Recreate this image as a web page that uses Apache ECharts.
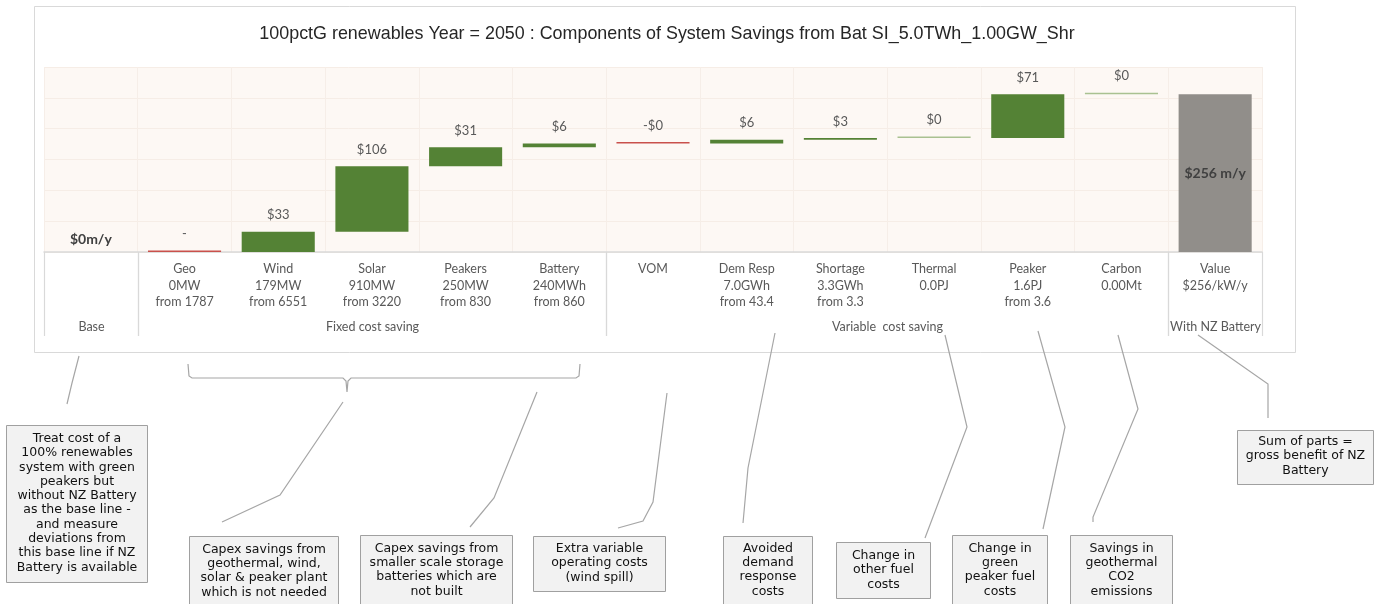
<!DOCTYPE html>
<html><head><meta charset="utf-8">
<script src="https://cdn.jsdelivr.net/npm/echarts/dist/echarts.min.js"></script>
<style>html,body{margin:0;padding:0;background:#fff}#c{width:1381px;height:604px}</style>
</head><body><div id="c"></div>
<script>
// ---------------- DATA ----------------
const titleText = '100pctG renewables Year = 2050 : Components of System Savings from Bat SI_5.0TWh_1.00GW_Shr';
const categories = ['', 'Geo\n0MW\nfrom 1787', 'Wind\n179MW\nfrom 6551', 'Solar\n910MW\nfrom 3220',
  'Peakers\n250MW\nfrom 830', 'Battery\n240MWh\nfrom 860', 'VOM', 'Dem Resp\n7.0GWh\nfrom 43.4',
  'Shortage\n3.3GWh\nfrom 3.3', 'Thermal\n0.0PJ', 'Peaker\n1.6PJ\nfrom 3.6', 'Carbon\n0.00Mt', 'Value\n$256/kW/y'];
const barKinds = ['total', 'step', 'step', 'step', 'step', 'step', 'step', 'step', 'step', 'step', 'step', 'step', 'total'];
const changes = [0, 0, 33, 106, 31, 6, -0, 6, 3, 0, 71, 0, 256];
const valueLabels = ['$0m/y', '-', '$33', '$106', '$31', '$6', '-$0', '$6', '$3', '$0', '$71', '$0', '$256 m/y'];
const groupNames = ['Base', 'Fixed cost saving', 'Variable  cost saving', 'With NZ Battery'];
const groupStart = [0, 1, 6, 12];
const groupEnd = [0, 5, 11, 12];
const yMin = 0, yMax = 300, yStep = 50;

// annotation texts
const noteTexts = [
  'Treat cost of a\n100% renewables\nsystem with green\npeakers but\nwithout NZ Battery\nas the base line -\nand measure\ndeviations from\nthis base line if NZ\nBattery is available',
  'Capex savings from\ngeothermal, wind,\nsolar & peaker plant\nwhich is not needed',
  'Capex savings from\nsmaller scale storage\nbatteries which are\nnot built',
  'Extra variable\noperating costs\n(wind spill)',
  'Avoided\ndemand\nresponse\ncosts',
  'Change in\nother fuel\ncosts',
  'Change in\ngreen\npeaker fuel\ncosts',
  'Savings in\ngeothermal\nCO2\nemissions',
  'Sum of parts =\ngross benefit of NZ\nBattery'
];

// ---------------- STYLE / LAYOUT ----------------
const GREEN = '#548235', RED = '#C9514C', LIGHTG = '#A9C191', GREY = '#918E8A';
const barColors = ['rgba(0,0,0,0)', RED, GREEN, GREEN, GREEN, GREEN, RED, GREEN, GREEN, LIGHTG, GREEN, LIGHTG, GREY];
const noteBoxes = [ // x, y, w, h
  [6, 425, 141, 157], [189, 536, 149, 80], [360, 535, 152, 80], [533, 536, 132, 55],
  [723, 536, 89, 80], [836, 542, 94, 56], [952, 535, 95, 80], [1070, 535, 102, 80], [1237, 430, 136, 54]
];
const noteCenters = [503, 571, 570, 563, 570, 570, 570, 570, 456];
const connectors = [
  [[79, 356], [72, 383], [67, 404]],
  [[188, 364], [189, 376], [192, 378], [343, 378], [346, 381], [347, 392], [348, 381], [351, 378], [576, 378], [579, 376], [580, 364]],
  [[343, 402], [280, 495], [222, 522]],
  [[537, 392], [494, 498], [470, 527]],
  [[667, 393], [653, 502], [643, 521], [618, 528]],
  [[775, 333], [748, 468], [743, 523]],
  [[945, 335], [967, 427], [925, 538]],
  [[1038, 331], [1065, 427], [1043, 529]],
  [[1118, 335], [1138, 409], [1093, 517], [1093, 522]],
  [[1198, 335], [1268, 384], [1268, 418]]
];

// waterfall offsets derived from the changes
const offsets = [];
let running = 0;
for (let i = 0; i < changes.length; i++) {
  if (barKinds[i] === 'total') { offsets.push(0); }
  else { offsets.push(running); running += changes[i]; }
}
const labelFont = 'Lato, "Open Sans", sans-serif';
const visData = changes.map((v, i) => {
  const item = { value: v, itemStyle: { color: barColors[i] } };
  if (i === 0) item.label = { fontWeight: 'bold', fontSize: 14, color: '#404040', distance: 4 };
  if (i === changes.length - 1) item.label = { position: 'inside', fontWeight: 'bold', fontSize: 14, color: '#404040' };
  return item;
});
const groupData = groupNames.map((n, i) => ({ value: [groupStart[i], groupEnd[i]], name: n }));

const graphics = [];
graphics.push({ type: 'rect', shape: { x: 34.5, y: 6.5, width: 1261, height: 346 }, style: { fill: 'none', stroke: '#D9D9D9', lineWidth: 1 }, z: -10 });
graphics.push({ type: 'text', x: 667, y: 34, style: { text: titleText, align: 'center', verticalAlign: 'middle', fontFamily: '"Liberation Sans", Arial, sans-serif', fontSize: 17.9, fill: '#262626' } });
connectors.forEach(pts => graphics.push({ type: 'polyline', shape: { points: pts }, style: { stroke: '#A6A6A6', lineWidth: 1.2, fill: null }, z: 50 }));
noteTexts.forEach((t, i) => {
  const b = noteBoxes[i];
  graphics.push({ type: 'rect', shape: { x: b[0] + 0.5, y: b[1] + 0.5, width: b[2], height: b[3] }, style: { fill: '#F2F2F2', stroke: '#A0A0A0', lineWidth: 1 }, z: 60 });
  graphics.push({ type: 'text', x: b[0] + b[2] / 2 + 0.5, y: noteCenters[i], style: { text: t, align: 'center', verticalAlign: 'middle', fontFamily: '"DejaVu Sans", sans-serif', fontSize: 12.5, lineHeight: 14.3, fill: '#111' }, z: 61 });
});

const chart = echarts.init(document.getElementById('c'), null, { renderer: 'canvas' });
chart.setOption({
  animation: false,
  backgroundColor: '#fff',
  textStyle: { fontFamily: labelFont },
  grid: { left: 44, right: 119, top: 67, bottom: 352, show: true, backgroundColor: '#FDF8F4', borderWidth: 0, containLabel: false, outerBoundsMode: 'none' },
  xAxis: {
    type: 'category', data: categories,
    axisLine: { show: true, lineStyle: { color: '#D9D9D9', width: 1.5 } },
    axisTick: { show: false },
    splitLine: { show: true, interval: 0, lineStyle: { color: '#F6EEE8', width: 1 } },
    axisLabel: { interval: 0, color: '#595959', fontSize: 12.5, lineHeight: 16.5, margin: 9, fontFamily: labelFont }
  },
  yAxis: {
    type: 'value', min: yMin, max: yMax, interval: yStep,
    axisLabel: { show: false }, axisLine: { show: false }, axisTick: { show: false },
    splitLine: { show: true, lineStyle: { color: '#F6EDE6', width: 1 } }
  },
  series: [
    { type: 'bar', stack: 'w', data: offsets, itemStyle: { color: 'rgba(0,0,0,0)' }, barWidth: '78%', silent: true },
    {
      type: 'bar', stack: 'w', data: visData, barWidth: '78%', barMinHeight: 1.5,
      label: { show: true, position: 'top', distance: 10, color: '#595959', fontSize: 13, fontFamily: labelFont,
        formatter: p => valueLabels[p.dataIndex] }
    },
    {
      type: 'custom', clip: false, silent: true, data: groupData, z: 5,
      renderItem: (params, api) => {
        const s = api.value(0), e = api.value(1);
        const band = api.size([1, 0])[0];
        const p0 = api.coord([s, 0]), p1 = api.coord([e, 0]);
        const left = Math.round(p0[0] - band / 2) + 0.5, right = Math.round(p1[0] + band / 2) + 0.5;
        const y0 = p0[1];
        return {
          type: 'group', children: [
            { type: 'line', shape: { x1: left, y1: y0, x2: left, y2: y0 + 84 }, style: { stroke: '#D9D9D9', lineWidth: 1.2 } },
            { type: 'line', shape: { x1: right, y1: y0, x2: right, y2: y0 + 84 }, style: { stroke: '#D9D9D9', lineWidth: 1.2 } },
            { type: 'text', x: (left + right) / 2, y: y0 + 75, style: { text: groupNames[params.dataIndex], align: 'center', verticalAlign: 'middle', fill: '#595959', fontSize: 12.5, fontFamily: labelFont } }
          ]
        };
      }
    }
  ],
  graphic: graphics
});
</script></body></html>
